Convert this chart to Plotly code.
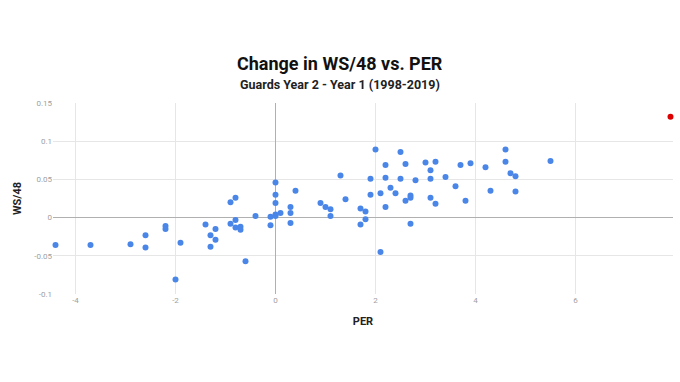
import plotly.graph_objects as go

# Blue series: PER change (x) vs WS/48 change (y)
per_change = [
    -4.4, -3.7, -2.9, -2.6, -2.6, -2.2, -2.2, -2.0, -1.9, -1.4,
    -1.3, -1.3, -1.2, -1.2, -0.9, -0.9, -0.8, -0.8, -0.8, -0.7,
    -0.7, -0.6, -0.4, -0.1, -0.1, 0.0, 0.0, 0.0, 0.0, 0.0,
    0.1, 0.3, 0.3, 0.3, 0.4, 0.9, 1.0, 1.1, 1.1, 1.3,
    1.4, 1.7, 1.7, 1.8, 1.8, 1.9, 1.9, 2.0, 2.1, 2.1,
    2.2, 2.2, 2.2, 2.3, 2.4, 2.5, 2.5, 2.6, 2.6, 2.7,
    2.7, 2.7, 2.8, 3.0, 3.1, 3.1, 3.1, 3.2, 3.2, 3.4,
    3.6, 3.7, 3.8, 3.9, 4.2, 4.3, 4.6, 4.6, 4.7, 4.8,
    4.8, 5.5,
]
ws48_change = [
    -0.036, -0.036, -0.035, -0.023, -0.039, -0.011, -0.015, -0.081, -0.033, -0.009,
    -0.023, -0.038, -0.015, -0.029, 0.020, -0.008, 0.026, -0.003, -0.013, -0.012,
    -0.016, -0.057, 0.002, 0.001, -0.010, 0.046, 0.030, 0.019, 0.004, 0.002,
    0.006, 0.014, 0.006, -0.007, 0.035, 0.019, 0.014, 0.011, 0.002, 0.055,
    0.024, 0.012, -0.009, 0.008, -0.002, 0.051, 0.030, 0.089, 0.032, -0.045,
    0.069, 0.052, 0.014, 0.039, 0.032, 0.086, 0.051, 0.070, 0.022, 0.029,
    0.026, -0.008, 0.049, 0.072, 0.062, 0.051, 0.026, 0.073, 0.018, 0.053,
    0.041, 0.069, 0.022, 0.071, 0.066, 0.035, 0.089, 0.073, 0.058, 0.054,
    0.034, 0.074,
]

# Highlighted (red) point
highlight_per = [7.9]
highlight_ws48 = [0.132]

x_ticks = [-4, -2, 0, 2, 4, 6]
x_tick_labels = ["-4", "-2", "0", "2", "4", "6"]
y_ticks = [-0.1, -0.05, 0, 0.05, 0.1, 0.15]
y_tick_labels = ["-0.1", "-0.05", "0", "0.05", "0.1", "0.15"]

title_text = "Change in WS/48 vs. PER"
subtitle_text = "Guards Year 2 - Year 1 (1998-2019)"

FONT = "Roboto, Arial, sans-serif"
W, H = 680, 382
ML, MR, MT, MB = 53, 7, 103, 88

fig = go.Figure()
fig.add_trace(go.Scatter(
    x=per_change, y=ws48_change, mode="markers",
    marker=dict(color="#4a86e8", size=6, line=dict(width=0)),
    hoverinfo="skip", showlegend=False, cliponaxis=False,
))
fig.add_trace(go.Scatter(
    x=highlight_per, y=highlight_ws48, mode="markers",
    marker=dict(color="#dd0000", size=6, line=dict(width=0)),
    hoverinfo="skip", showlegend=False, cliponaxis=False,
))

plot_h = H - MT - MB
plot_w = W - ML - MR

fig.update_layout(
    width=W, height=H,
    margin=dict(l=ML, r=MR, t=MT, b=MB, autoexpand=False),
    paper_bgcolor="white", plot_bgcolor="white",
    font=dict(family=FONT),
    xaxis=dict(
        range=[-4.45, 7.95], tickvals=x_ticks, ticktext=x_tick_labels,
        showgrid=True, gridcolor="#e6e6e6", gridwidth=1,
        zeroline=True, zerolinecolor="#b0b0b0", zerolinewidth=1,
        showline=False, ticks="", tickfont=dict(size=8, color="#a0a0a0"),
        title=dict(text="PER", font=dict(size=11, color="#222", family=FONT, weight="bold"), standoff=13),
        fixedrange=True, automargin=False,
    ),
    yaxis=dict(
        range=[-0.1, 0.15], tickvals=y_ticks, ticktext=y_tick_labels,
        showgrid=True, gridcolor="#e6e6e6", gridwidth=1,
        zeroline=True, zerolinecolor="#b0b0b0", zerolinewidth=1,
        showline=False, ticks="", tickfont=dict(size=8, color="#a0a0a0"),
        title=dict(text="WS/48", font=dict(size=11, color="#222", family=FONT, weight="bold"), standoff=10),
        fixedrange=True, automargin=False,
    ),
    annotations=[
        dict(text=title_text, xref="paper", yref="paper",
             x=(W / 2 - ML) / plot_w, y=1 + (MT - 63) / plot_h,
             xanchor="center", yanchor="middle", showarrow=False,
             font=dict(size=18, color="#111", family=FONT, weight="bold")),
        dict(text=subtitle_text, xref="paper", yref="paper",
             x=(W / 2 - ML) / plot_w, y=1 + (MT - 84) / plot_h,
             xanchor="center", yanchor="middle", showarrow=False,
             font=dict(size=12.5, color="#222", family=FONT, weight="bold")),
    ],
)

fig.write_html(
    "out.html",
    config={"displayModeBar": False, "staticPlot": True},
    post_script="document.body.style.margin='0';document.body.style.padding='0';",
)
